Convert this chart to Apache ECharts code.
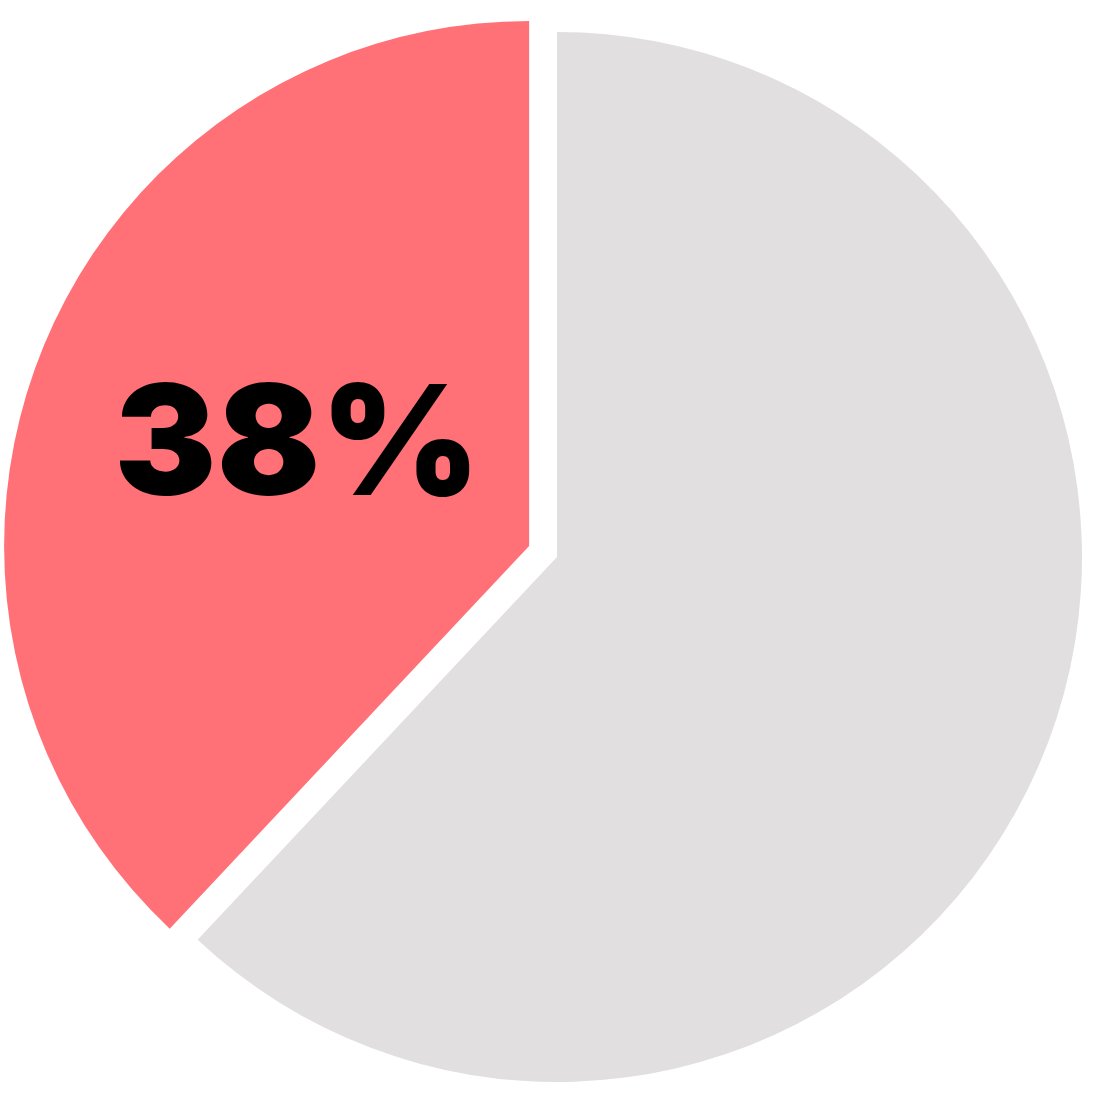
<!DOCTYPE html>
<html><head><meta charset="utf-8">
<script src="https://cdn.jsdelivr.net/npm/echarts@6/dist/echarts.min.js"></script>
<style>html,body{margin:0;padding:0;background:#fff}#c{width:1114px;height:1114px}</style>
</head><body><div id="c"></div>
<script>
const categories = ['Yes', 'No'];
const values = [38, 62];
const colors = ['#FF7077', '#E1DFE0'];

const chart = echarts.init(document.getElementById('c'));
chart.setOption({
  animation: false,
  series: [{
    type: 'pie',
    center: [557, 557],
    radius: 525,
    startAngle: 90,
    clockwise: false,
    selectedMode: 'single',
    selectedOffset: 30,
    silent: true,
    itemStyle: { borderWidth: 0 },
    labelLine: { show: false },
    data: categories.map((c, i) => ({
      name: c,
      value: values[i],
      selected: i === 0,
      itemStyle: { color: colors[i] },
      label: i === 0 ? {
        show: true,
        position: 'inside',
        formatter: '{c}%',
        color: '#000',
        fontFamily: 'Inter',
        fontWeight: 900,
        fontSize: 153
      } : { show: false }
    })),
    labelLayout: function (p) {
      return { dx: 15, dy: 1 };
    }
  }]
});
</script></body></html>
